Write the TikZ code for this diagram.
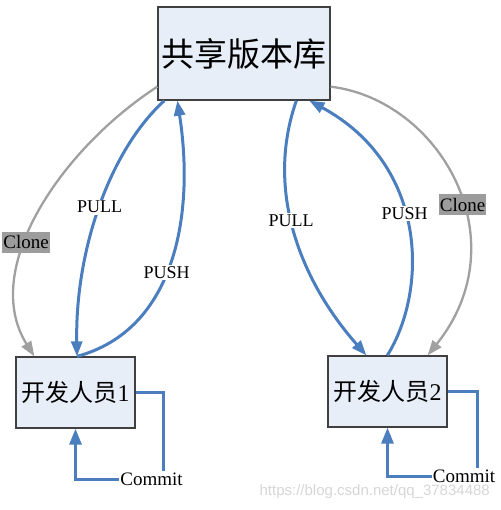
\documentclass[tikz,border=0pt]{standalone}
\usepackage{fontspec}
\setmainfont{Liberation Serif}
\setsansfont{Liberation Sans}
\newfontfamily\cjk{Noto Sans CJK SC}
\usetikzlibrary{arrows.meta,calc}
\definecolor{boxfill}{HTML}{E8EEF8}
\definecolor{boxline}{HTML}{404040}
\definecolor{flow}{HTML}{4A7EBE}
\definecolor{clonegray}{HTML}{A0A0A0}
\definecolor{labelgray}{HTML}{9C9C9C}
\definecolor{wmgray}{HTML}{D6D6D6}
\begin{document}
\begin{tikzpicture}[x=1pt,y=-1pt,
 box/.style={draw=boxline, line width=1.3pt, fill=boxfill, inner sep=0pt},
 flowline/.style={draw=flow, line width=3pt, -{Triangle[length=15pt,width=11pt]}},
 commitline/.style={draw=flow, line width=3pt, -{Triangle[length=16pt,width=12pt]}},
 cloneline/.style={draw=clonegray, line width=2.3pt, -{Triangle[length=15pt,width=11pt]}},
 flowlabel/.style={fill=white, inner sep=1.5pt, font=\fontsize{18}{18}\selectfont},
 commitlabel/.style={inner sep=1pt, font=\fontsize{19}{19}\selectfont},
 clonelabel/.style={fill=labelgray, inner xsep=1pt, inner ysep=0pt, minimum height=21pt, font=\fontsize{19}{19}\selectfont},
]
\useasboundingbox (0,0) rectangle (500,510);

\node[box, minimum width=172pt, minimum height=93pt] (repo) at (244,53.5) {\fontsize{33}{33}\selectfont\cjk 共享版本库};
\node[box, minimum width=119pt, minimum height=71pt] (dev1) at (75.5,392.5) {\fontsize{24}{24}\selectfont{\cjk 开发人员}1};
\node[box, minimum width=119pt, minimum height=71pt] (dev2) at (387.5,391.5) {\fontsize{24}{24}\selectfont{\cjk 开发人员}2};

% Clone left
\draw[cloneline] ($(repo.south west)+(0,-14)$) .. controls (60,150) and (-20,270) .. ($(dev1.north west)+(19,0)$)
  node[clonelabel, pos=0.6] {Clone};
% Clone right
\draw[cloneline] ($(repo.south east)+(0,-14)$) .. controls (440,100) and (520,240) .. ($(dev2.north east)+(-20,0)$)
  node[clonelabel, pos=0.57] {Clone};

% Left PULL
\draw[flowline] ($(repo.south west)+(7,0)$) .. controls (110,150) and (75,250) .. ($(dev1.north)+(1.5,0)$)
  node[flowlabel, pos=0.5] {PULL};
% Left PUSH
\draw[flowline] ($(dev1.north)+(1.5,0)$) .. controls (175,330) and (195,215) .. ($(repo.south west)+(20,0)$)
  node[flowlabel, pos=0.46] {PUSH};
% Right PULL
\draw[flowline] ($(repo.south west)+(139,0)$) .. controls (265,190) and (300,280) .. ($(dev2.north west)+(39,0)$)
  node[flowlabel, pos=0.45] {PULL};
% Right PUSH
\draw[flowline] ($(dev2.north west)+(60,0)$) .. controls (428,290) and (428,165) .. ($(repo.south west)+(152,0)$)
  node[flowlabel, pos=0.55] {PUSH};

% Commit loops
\node[commitlabel] (commit1) at (151.5,479) {Commit};
\node[commitlabel] (commit2) at (464,476) {Commit};
\draw[draw=flow, line width=3pt] (dev1.east) -| ($(commit1.north)+(11.5,0)$);
\draw[commitline] (commit1.west) -| (dev1.south);
\draw[draw=flow, line width=3pt] (dev2.east) -| ($(commit2.north)+(13,0)$);
\draw[commitline] (commit2.west) -| (dev2.south);

% watermark
\node[text=wmgray, font=\sffamily\fontsize{15}{15}\selectfont, anchor=east, inner sep=0pt] (wm) at (490,492) {https://blog.csdn.net/qq\_37834488};
\end{tikzpicture}
\end{document}
